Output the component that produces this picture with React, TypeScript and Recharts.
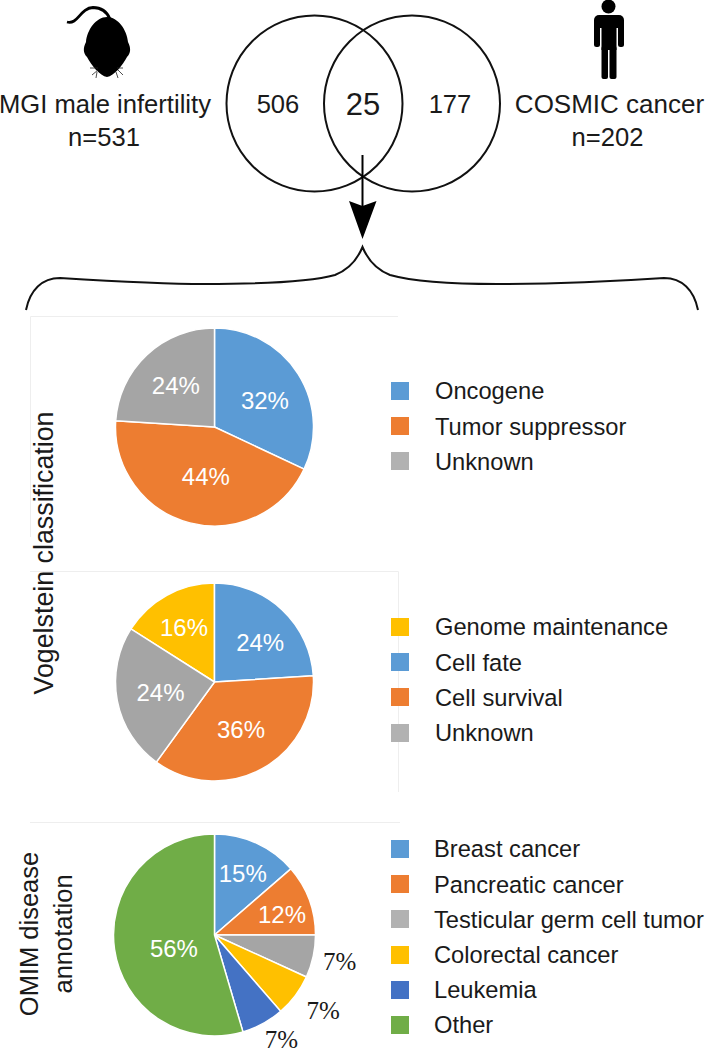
import React from "react";
import { PieChart, Pie, Cell, Legend } from "recharts";

const FONT = '"Liberation Sans", Arial, sans-serif';
const BLUE = "#5B9BD5";
const ORANGE = "#ED7D31";
const GRAY = "#A5A5A5";
const YELLOW = "#FFC000";
const DARK_BLUE = "#4472C4";
const GREEN = "#70AD47";

// Vogelstein classification (top)
const classNames = ["Oncogene", "Tumor suppressor", "Unknown"];
const classValues = [32, 44, 24];
const classLabels = ["32%", "44%", "24%"];
const classColors = [BLUE, ORANGE, GRAY];

// Vogelstein classification (process)
const processNames = ["Genome maintenance", "Cell fate", "Cell survival", "Unknown"];
const processValues = [16, 24, 36, 24];
const processLabels = ["16%", "24%", "36%", "24%"];
const processColors = [YELLOW, BLUE, ORANGE, GRAY];

// OMIM disease annotation: slices as drawn, labels as printed
const omimNames = ["Breast cancer", "Pancreatic cancer", "Testicular germ cell tumor", "Colorectal cancer", "Leukemia", "Other"];
const omimValues = [6, 5, 3, 3, 3, 24];
const omimLabels = ["15%", "12%", "7%", "7%", "7%", "56%"];
const omimColors = [BLUE, ORANGE, GRAY, YELLOW, DARK_BLUE, GREEN];

const RAD = Math.PI / 180;

type LabelPlace = { r: number; dx: number; dy: number; dark?: boolean };

const classPlaces: LabelPlace[] = [
  { r: 55, dx: 4, dy: 3 },
  { r: 55, dx: 5, dy: -4 },
  { r: 55, dx: -1, dy: -1 },
];
const processPlaces: LabelPlace[] = [
  { r: 55, dx: -4, dy: -6 },
  { r: 55, dx: 8, dy: 1 },
  { r: 55, dx: 0, dy: -1 },
  { r: 55, dx: 0, dy: 0 },
];
const omimPlaces: LabelPlace[] = [
  { r: 68, dx: 0, dy: 0 },
  { r: 71, dx: 1, dy: 4 },
  { r: 128, dx: 0, dy: -1, dark: true },
  { r: 132, dx: 3, dy: -4, dark: true },
  { r: 125, dx: 7, dy: -5, dark: true },
  { r: 43, dx: 2, dy: 7 },
];

type Panel = {
  names: string[];
  values: number[];
  labels: string[];
  colors: string[];
  places: LabelPlace[];
  top: number;
  height: number;
  cy: number;
  radius: number;
  startAngle: number;
  legendTop: number;
  legendGap: number;
};

const panels: Panel[] = [
  { names: classNames, values: classValues, labels: classLabels, colors: classColors, places: classPlaces, top: 316, height: 250, cy: 111, radius: 99, startAngle: 90, legendTop: 57.4, legendGap: 26 },
  { names: processNames, values: processValues, labels: processLabels, colors: processColors, places: processPlaces, top: 571, height: 240, cy: 111, radius: 99, startAngle: 147.6, legendTop: 38.4, legendGap: 26 },
  { names: omimNames, values: omimValues, labels: omimLabels, colors: omimColors, places: omimPlaces, top: 822, height: 228, cy: 113, radius: 101, startAngle: 90, legendTop: 9.4, legendGap: 25 },
];

function makeLabel(panel: Panel) {
  return (props: any) => {
    const { cx, cy, midAngle, index } = props;
    const place = panel.places[index];
    const x = cx + place.r * Math.cos(midAngle * RAD) + place.dx;
    const y = cy - place.r * Math.sin(midAngle * RAD) + place.dy;
    return (
      <text
        x={x}
        y={y}
        textAnchor="middle"
        dominantBaseline="central"
        fill={place.dark ? "#1a1a1a" : "#ffffff"}
        fontFamily={place.dark ? '"Liberation Serif", "Times New Roman", serif' : FONT}
        fontSize={place.dark ? 25 : 24}
      >
        {panel.labels[index]}
      </text>
    );
  };
}

function makeLegend(panel: Panel) {
  return () => (
    <div style={{ fontFamily: FONT, fontSize: 23.7, color: "#1a1a1a" }}>
      {panel.names.map((name, i) => (
        <div key={name} style={{ display: "flex", alignItems: "center", height: 35.2, whiteSpace: "nowrap" }}>
          <span
            style={{
              display: "inline-block",
              width: 18,
              height: 18,
              marginRight: panel.legendGap,
              background: panel.colors[i] === GRAY ? "#B2B2B2" : panel.colors[i],
            }}
          />
          <span style={{ position: "relative", top: 1 }}>{name}</span>
        </div>
      ))}
    </div>
  );
}

function PiePanel({ panel }: { panel: Panel }) {
  const rows = panel.names.map((name, i) => ({ name, value: panel.values[i] }));
  return (
    <div style={{ position: "absolute", left: 0, top: panel.top }}>
      <PieChart width={707} height={panel.height} margin={{ top: 0, right: 0, bottom: 0, left: 0 }}>
        <Pie
          data={rows}
          dataKey="value"
          nameKey="name"
          cx={214.5}
          cy={panel.cy}
          innerRadius={0}
          outerRadius={panel.radius}
          startAngle={panel.startAngle}
          endAngle={panel.startAngle - 360}
          stroke="#ffffff"
          strokeWidth={1.5}
          isAnimationActive={false}
          labelLine={false}
          label={makeLabel(panel)}
        >
          {rows.map((r, i) => (
            <Cell key={r.name} fill={panel.colors[i]} />
          ))}
        </Pie>
        <Legend
          content={makeLegend(panel)}
          wrapperStyle={{ position: "absolute", left: 391, top: panel.legendTop, width: 316, height: "auto" }}
        />
      </PieChart>
    </div>
  );
}

function Txt({ x, y, size = 25.6, children }: { x: number; y: number; size?: number; children: React.ReactNode }) {
  return (
    <text x={x} y={y} fontSize={size} fontFamily={FONT} fill="#1a1a1a" textAnchor="middle" dominantBaseline="central">
      {children}
    </text>
  );
}

function Rot({ x, y, size, children }: { x: number; y: number; size: number; children: React.ReactNode }) {
  return (
    <text
      transform={`translate(${x} ${y}) rotate(-90)`}
      fontSize={size}
      fontFamily={FONT}
      fill="#1a1a1a"
      textAnchor="middle"
      dominantBaseline="central"
    >
      {children}
    </text>
  );
}

function Art() {
  return (
    <svg width={707} height={1050} style={{ position: "absolute", left: 0, top: 0 }}>
      {/* panel frames */}
      <g stroke="#EEEEEE" strokeWidth={1} fill="none">
        <path d="M30.5 537V316.5H398" />
        <path d="M30 571.5H398.5V792" />
        <path d="M30 822.5H400" />
      </g>

      {/* mouse */}
      <path
        d="M107 17C118 17 127 30 128 42C131 48 131 53 127 57C123 65 114 76 107 77C100 76 91 65 87 57C83 53 83 48 86 42C87 30 96 17 107 17Z"
        fill="#000"
      />
      <path d="M67 22C78 25 80 8 93 7.5C102 7.5 107 12 110 19" fill="none" stroke="#000" strokeWidth={2.8} />
      <g stroke="#222" strokeWidth={0.8} fill="none">
        <path d="M98 68L90 68M98 70L92 75M97 72L96 78M117 68L123 68M118 70L123 75M116 72L118 78" />
      </g>

      {/* person */}
      <g fill="#000">
        <circle cx={608.5} cy={6.5} r={7} />
        <rect x={594} y={15} width={30} height={13} rx={5} />
        <rect x={594} y={20} width={6} height={27} rx={2.5} />
        <rect x={618} y={20} width={6} height={27} rx={2.5} />
        <rect x={601.5} y={15} width={15} height={35} />
        <rect x={601.5} y={46} width={6.5} height={33} rx={2} />
        <rect x={609.5} y={46} width={7} height={33} rx={2} />
      </g>

      {/* venn */}
      <g fill="none" stroke="#111" strokeWidth={2}>
        <circle cx={314.5} cy={103.5} r={88} />
        <circle cx={412} cy={103.5} r={88} />
      </g>
      <Txt x={105} y={104}>MGI male infertility</Txt>
      <Txt x={104} y={137}>n=531</Txt>
      <Txt x={278} y={104}>506</Txt>
      <Txt x={363} y={104} size={31}>25</Txt>
      <Txt x={450} y={104}>177</Txt>
      <Txt x={609.5} y={104} size={26}>COSMIC cancer</Txt>
      <Txt x={607.5} y={137}>n=202</Txt>

      {/* arrow */}
      <path d="M362.5 155V208" stroke="#000" strokeWidth={2} fill="none" />
      <path d="M349 201L362.5 206L376.5 201L362.5 239Z" fill="#000" />

      {/* brace */}
      <path
        d="M26 310C30 290 42 278 60 278C110 281 160 284 204 284C260 284 310 282 335 275C350 269 358 258 362.5 247C367 258 375 269 390 275C415 282 450 284 497 284C560 284 620 281 664 278C682 278 694 290 698 310"
        fill="none"
        stroke="#111"
        strokeWidth={2}
      />

      {/* side titles */}
      <Rot x={44} y={553} size={26.8}>Vogelstein classification</Rot>
      <Rot x={29} y={934} size={25.5}>OMIM disease</Rot>
      <Rot x={63} y={934} size={25.5}>annotation</Rot>
    </svg>
  );
}

export default function App() {
  return (
    <div style={{ position: "absolute", left: 0, top: 0, width: 707, height: 1050, background: "#fff", overflow: "hidden" }}>
      <Art />
      {panels.map((p) => (
        <PiePanel key={p.top} panel={p} />
      ))}
    </div>
  );
}
